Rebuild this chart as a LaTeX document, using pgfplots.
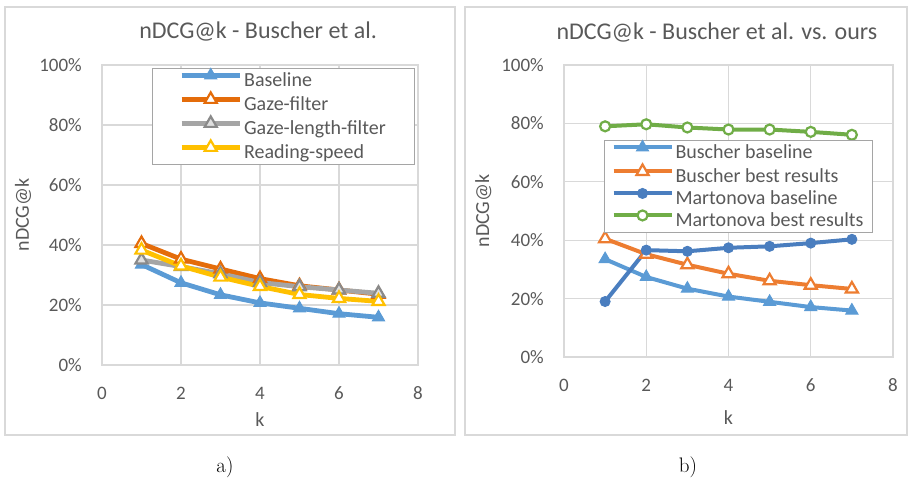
\documentclass[border=0pt]{standalone}
\usepackage{fontspec}
\usepackage{pgfplots}
\pgfplotsset{compat=1.18}
\newfontfamily\carlito{Carlito}

\definecolor{gridc}{HTML}{D9D9D9}
\definecolor{txt}{HTML}{595959}
\definecolor{xblue}{HTML}{5B9BD5}
\definecolor{xorange}{HTML}{E46C0A}
\definecolor{xorange2}{HTML}{ED7D31}
\definecolor{xgray}{HTML}{A5A5A5}
\definecolor{xgraydk}{HTML}{8A8A8A}
\definecolor{xyellow}{HTML}{FFC000}
\definecolor{xdblue}{HTML}{4A7EBF}
\definecolor{xgreen}{HTML}{70AD47}

\pgfplotsset{
  excel/.style={
    scale only axis,
    xmin=0, xmax=8, ymin=0, ymax=100,
    xtick={0,2,...,8}, ytick={0,20,...,100},
    grid=major,
    major grid style={draw=gridc, line width=1.3pt},
    axis line style={draw=gridc, line width=1.3pt},
    tick style={draw=none},
    ticklabel style={font=\carlito\fontsize{19}{22}\selectfont, text=txt},
    xticklabel style={anchor=center, yshift=-28pt},
    yticklabel style={anchor=east, inner sep=0pt, xshift=-20pt},
    xticklabel={\pgfmathprintnumber[assume math mode=true]{\tick}},
    yticklabel={\pgfmathprintnumber[assume math mode=true]{\tick}\%},
    label style={font=\carlito\fontsize{20}{24}\selectfont, text=txt},
    title style={font=\carlito\fontsize{24}{28}\selectfont, text=txt, anchor=center},
    xlabel={k}, ylabel={nDCG@k},
    legend cell align=left,
    legend style={font=\carlito\fontsize{20}{24}\selectfont, text=txt,
      draw=xgray, line width=0.8pt, fill=white, anchor=north west,
      inner ysep=0pt, row sep=0pt,
      nodes={inner xsep=2pt, inner ysep=1pt, text height=15pt, text depth=5pt}},
    legend image code/.code={
      \draw[mark repeat=2, mark phase=2, #1] plot coordinates {(0pt,6pt) (29pt,6pt) (58pt,6pt)};},
  }
}

\begin{document}
\begin{tikzpicture}[x=1pt, y=1pt]
\path (0,0) rectangle (910,480);
\draw[gridc, line width=1.5pt] (5,45) rectangle (455,473);
\draw[gridc, line width=1.5pt] (465,45) rectangle (907,473);

% a) Buscher et al.
\begin{axis}[excel, at={(102pt,115pt)}, anchor=south west, width=316pt, height=300pt,
  title={nDCG@k - Buscher et al.},
  title style={at={(axis description cs:0.494,1.09)}},
  xlabel style={at={(axis description cs:0.5,-0.183)}, anchor=center},
  ylabel style={at={(axis description cs:-0.25,0.5)}, anchor=center, rotate=0},
  legend style={at={(axis description cs:0.158,0.99)}, inner xsep=27pt},
  mark size=7pt]
\addplot[xblue, line width=4.8pt, mark=triangle*, mark options={fill=xblue, draw=xblue, line width=1pt}]
  coordinates {(1,33.5) (2,27.4) (3,23.4) (4,20.7) (5,18.9) (6,17.1) (7,15.9)};
\addplot[xorange, line width=4.8pt, mark=triangle*, mark options={fill=white, draw=xorange, line width=2.2pt}]
  coordinates {(1,40.5) (2,35.3) (3,32.0) (4,28.8) (5,26.4) (6,25.0) (7,23.6)};
\addplot[xgray, line width=4.8pt, mark=triangle*, mark options={fill=gray!25, draw=xgraydk, line width=2.2pt}]
  coordinates {(1,35.0) (2,32.8) (3,30.4) (4,27.5) (5,26.1) (6,25.0) (7,23.9)};
\addplot[xyellow, line width=4.8pt, mark=triangle*, mark options={fill=white, draw=xyellow, line width=2.2pt}]
  coordinates {(1,38.3) (2,33.0) (3,29.3) (4,26.2) (5,23.5) (6,22.2) (7,21.2)};
\legend{Baseline, Gaze-filter, Gaze-length-filter, Reading-speed}
\end{axis}

% b) Buscher et al. vs. ours
\begin{axis}[excel, at={(564pt,123pt)}, anchor=south west, width=329pt, height=292pt,
  title={nDCG@k - Buscher et al. vs. ours},
  title style={at={(axis description cs:0.465,1.09)}},
  xlabel style={at={(axis description cs:0.5,-0.209)}, anchor=center},
  ylabel style={at={(axis description cs:-0.245,0.5)}, anchor=center, rotate=0},
  legend style={at={(axis description cs:0.122,0.743)}, inner xsep=7pt}]
\addplot[xblue, line width=4pt, mark=triangle*, mark size=7pt, mark options={fill=xblue, draw=xblue, line width=1pt}]
  coordinates {(1,33.5) (2,27.4) (3,23.4) (4,20.7) (5,18.9) (6,17.1) (7,15.9)};
\addplot[xorange2, line width=4pt, mark=triangle*, mark size=7pt, mark options={fill=white, draw=xorange2, line width=2.2pt}]
  coordinates {(1,40.5) (2,35.2) (3,31.6) (4,28.5) (5,26.1) (6,24.6) (7,23.3)};
\addplot[xdblue, line width=4pt, mark=*, mark size=5pt, mark options={fill=xdblue, draw=xdblue, line width=1pt}]
  coordinates {(1,19.0) (2,36.6) (3,36.2) (4,37.4) (5,37.9) (6,39.0) (7,40.3)};
\addplot[xgreen, line width=4pt, mark=*, mark size=5pt, mark options={fill=white, draw=xgreen, line width=2.2pt}]
  coordinates {(1,79.0) (2,79.7) (3,78.6) (4,77.9) (5,77.9) (6,77.1) (7,76.1)};
\legend{Buscher baseline, Buscher best results, Martonova baseline, Martonova best results}
\end{axis}

\node[font=\fontsize{21}{25}\selectfont] at (225,13) {a)};
\node[font=\fontsize{21}{25}\selectfont] at (688,13) {b)};
\end{tikzpicture}
\end{document}
